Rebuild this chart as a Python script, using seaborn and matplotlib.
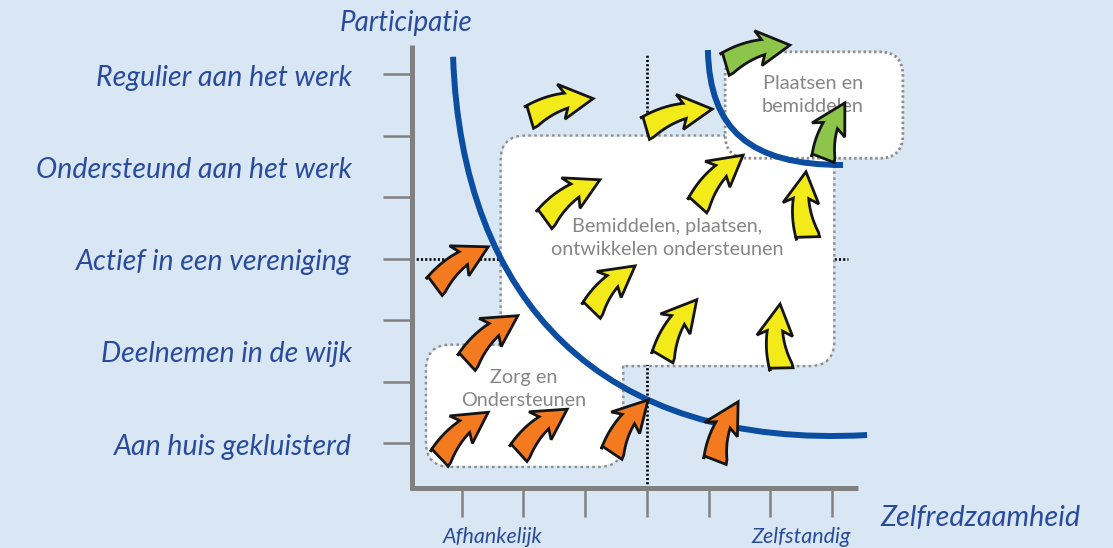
import numpy as np
import pandas as pd
import matplotlib
matplotlib.use("Agg")
import matplotlib.pyplot as plt
import seaborn as sns
from matplotlib.patches import FancyBboxPatch, PathPatch, Polygon
from matplotlib.path import Path

# participatieniveaus op de y-as
niveaus = ['Aan huis gekluisterd', 'Deelnemen in de wijk', 'Actief in een vereniging',
           'Ondersteund aan het werk', 'Regulier aan het werk']
niveau_pos = [1, 2.5, 4, 5.5, 7]
y_ticks = [1, 2, 3, 4, 5, 6, 7]
x_ticks = [1, 2, 3, 4, 5, 6, 7]
x_labels = ['Afhankelijk', 'Zelfstandig']
x_label_pos = [1.5, 6.5]

# gebieden (rounded boxes)
box_names = ['Bemiddelen, plaatsen,\nontwikkelen ondersteunen', 'Zorg en\nOndersteunen',
             'Plaatsen en\nbemiddelen']
box_x0 = [1.65, 0.44, 5.27]
box_x1 = [7.02, 3.60, 8.15]
box_y0 = [2.27, 0.63, 5.63]
box_y1 = [5.98, 2.58, 7.36]
box_text_x = [4.33, 2.01, 6.69]
box_text_y = [4.33, 1.88, 6.66]

# curves (bezier control points)
curve_big_x = [0.86, 1.00, 3.24, 7.57]
curve_big_y = [7.28, 3.33, 0.89, 1.13]
curve_small_x = [4.99, 5.02, 5.67, 7.18]
curve_small_y = [7.39, 6.09, 5.52, 5.52]

# pijlen: staart (x0, y0) -> punt (x1, y1)
arrow_x0 = [0.57, 1.09, 0.65, 1.93, 3.44, 5.11, 2.11, 3.99, 2.35, 4.83, 6.61, 3.11, 4.26, 6.18, 5.28, 6.86]
arrow_y0 = [3.55, 2.32, 0.76, 0.84, 0.84, 0.72, 6.30, 6.12, 4.64, 4.87, 4.35, 3.16, 2.40, 2.22, 7.16, 5.63]
arrow_x1 = [1.43, 1.91, 1.43, 2.71, 4.02, 5.48, 3.13, 5.06, 3.24, 5.56, 6.58, 3.81, 4.81, 6.16, 6.32, 7.21]
arrow_y1 = [4.19, 3.07, 1.50, 1.55, 1.70, 1.67, 6.60, 6.43, 5.28, 5.68, 5.41, 3.88, 3.33, 3.26, 7.47, 6.53]
arrow_fase = ['zorg'] * 6 + ['bemiddelen'] * 8 + ['plaatsen'] * 2

# hulplijnen (stippellijnen)
guide_x = [0.2, 7.26, 4.0, 4.0]
guide_y = [4.0, 4.0, 0.27, 7.31]
guide_id = ['h', 'h', 'v', 'v']

BG = '#D9E7F5'
BLUE_TXT = '#2A4B9B'
BLUE_LINE = '#0B4DA1'
GREY = '#808080'
fase_colors = {'zorg': '#F47A20', 'bemiddelen': '#F3EA1A', 'plaatsen': '#8DC44A'}


def curved_arrow(ax, x0, y0, x1, y1, color, bend=0.18):
    p0 = np.array([x0, y0])
    p1 = np.array([x1, y1])
    d = p1 - p0
    L = np.hypot(*d)
    n = np.array([-d[1], d[0]]) / L
    c = (p0 + p1) / 2 + n * bend * L
    t = np.linspace(0, 1, 80)[:, None]
    pts = (1 - t) ** 2 * p0 + 2 * (1 - t) * t * c + t ** 2 * p1
    s = np.concatenate([[0], np.cumsum(np.hypot(*np.diff(pts, axis=0).T))])
    k = np.searchsorted(s, s[-1] - 0.45)
    tang = np.gradient(pts, axis=0)
    tang /= np.hypot(tang[:, 0], tang[:, 1])[:, None]
    norm = np.stack([-tang[:, 1], tang[:, 0]], axis=1)
    norm[0] = n  # staart haaks op de koorde
    w = np.linspace(0.38, 0.25, k + 1)[:, None] / 2
    left = pts[:k + 1] + norm[:k + 1] * w
    right = pts[:k + 1] - norm[:k + 1] * w
    neck, tn, nn = pts[k], tang[k], norm[k]
    barb_l = neck + nn * 0.29 - tn * 0.08
    barb_r = neck - nn * 0.29 - tn * 0.08
    outline = np.vstack([left, barb_l, p1, barb_r, right[::-1]])
    ax.add_patch(Polygon(outline, closed=True, fc=color, ec='#141414', lw=2.0,
                         joinstyle='miter', zorder=8))


def bezier(xs, ys):
    verts = list(zip(xs, ys))
    return Path(verts, [Path.MOVETO, Path.CURVE4, Path.CURVE4, Path.CURVE4])


sns.set_theme(style='white')
plt.rcParams['font.family'] = ['Lato', 'DejaVu Sans']

fig = plt.figure(figsize=(11.13, 5.48), dpi=100)
fig.patch.set_facecolor(BG)
ax = fig.add_axes([0, 0, 1, 1])
ax.set_facecolor(BG)
ax.set_xlim(-400 / 61.7, 713 / 61.7)
ax.set_ylim(-43.5 / 61.5, 504.5 / 61.5)
ax.axis('off')

# stippellijnen
guides = pd.DataFrame({'x': guide_x, 'y': guide_y, 'lijn': guide_id})
sns.lineplot(data=guides, x='x', y='y', units='lijn', estimator=None, sort=False,
             color='black', lw=1.9, linestyle=(0, (0.8, 0.8)), ax=ax, zorder=1, legend=False)

# assen
ax.vlines(0.195, 0.236, 7.47, color=GREY, lw=3.6, zorder=5)
ax.hlines(0.268, 0.16, 7.42, color=GREY, lw=3.6, zorder=5)
ax.hlines(y_ticks, -0.276, 0.195, color=GREY, lw=1.8, zorder=5)
ax.vlines(x_ticks, -0.203, 0.268, color=GREY, lw=1.8, zorder=5)

# gebieden: de twee onderste vormen samen een vlak, de bovenste ligt erover
style = 'round,pad=0,rounding_size=0.38'
for i in range(3):
    w = box_x1[i] - box_x0[i]
    h = box_y1[i] - box_y0[i]
    if i < 2:
        ax.add_patch(FancyBboxPatch((box_x0[i], box_y0[i]), w, h, boxstyle=style, fc='none',
                                    ec='#8E8E8E', lw=3.4, ls=(0, (0.55, 0.7)), zorder=2))
        ax.add_patch(FancyBboxPatch((box_x0[i], box_y0[i]), w, h, boxstyle=style, fc='white',
                                    ec='none', zorder=3))
    else:
        ax.add_patch(FancyBboxPatch((box_x0[i], box_y0[i]), w, h, boxstyle=style, fc='white',
                                    ec='#8E8E8E', lw=2.0, ls=(0, (0.9, 1.0)), zorder=4))
    ax.text(box_text_x[i], box_text_y[i], box_names[i], ha='center', va='center',
            color='#868686', fontsize=14.3, linespacing=1.4, zorder=5)

# curves
ax.add_patch(PathPatch(bezier(curve_big_x, curve_big_y), fc='none', ec=BLUE_LINE,
                       lw=4.3, capstyle='butt', zorder=6))
ax.add_patch(PathPatch(bezier(curve_small_x, curve_small_y), fc='none', ec=BLUE_LINE,
                       lw=4.3, capstyle='butt', zorder=6))

# pijlen
for x0, y0, x1, y1, f in zip(arrow_x0, arrow_y0, arrow_x1, arrow_y1, arrow_fase):
    curved_arrow(ax, x0, y0, x1, y1, fase_colors[f])

# teksten
for lab, y in zip(niveaus, niveau_pos):
    ax.text(-0.778, y - 0.06, lab, ha='right', va='center', color=BLUE_TXT, fontsize=20.5,
            style='italic')
for lab, x in zip(x_labels, x_label_pos):
    ax.text(x, -0.53, lab, ha='center', va='center', color=BLUE_TXT, fontsize=15.5,
            style='italic')
ax.text(0.1, 7.83, 'Participatie', ha='center', va='center', color=BLUE_TXT,
        fontsize=20, style='italic')
ax.text(7.78, -0.22, 'Zelfredzaamheid', ha='left', va='center', color=BLUE_TXT,
        fontsize=20.8, style='italic')

fig.savefig('out.png', dpi=100, facecolor=BG)
